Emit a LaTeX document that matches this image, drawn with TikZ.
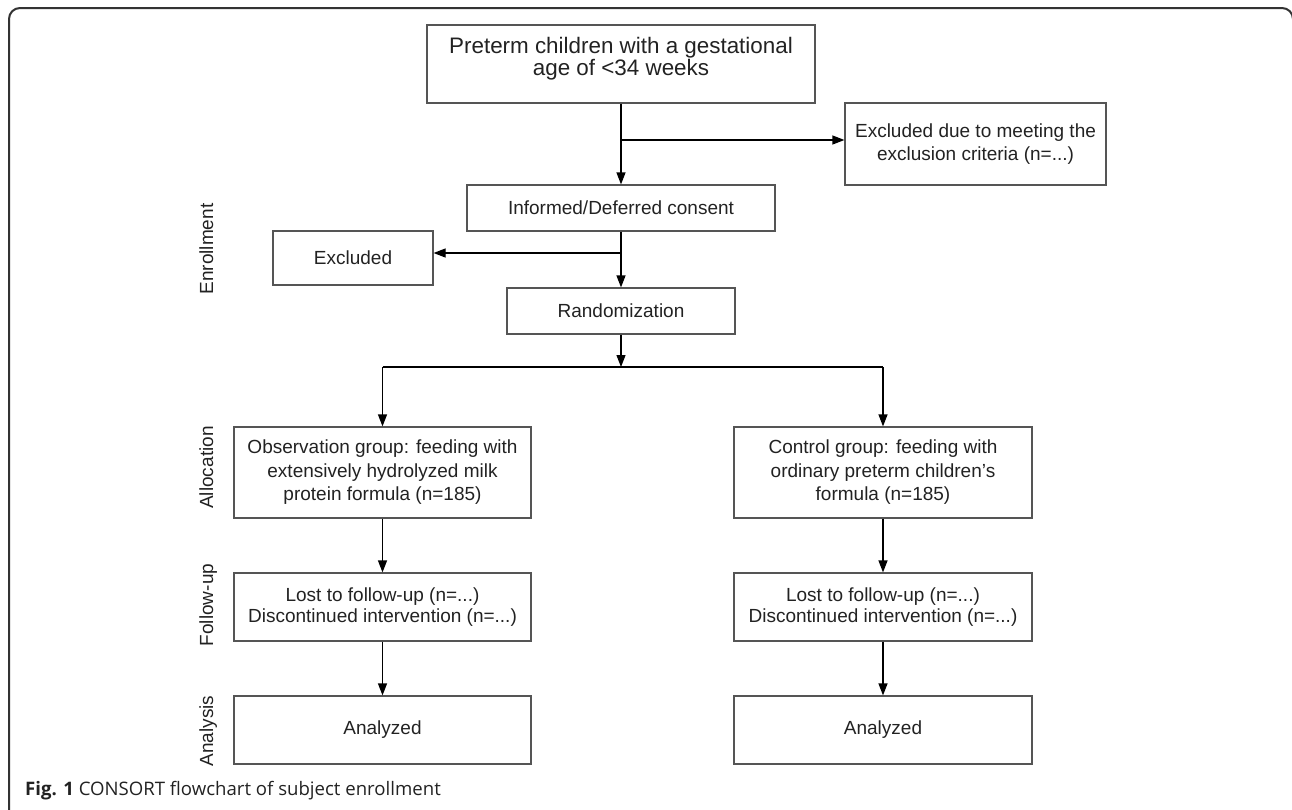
\documentclass[tikz,border=0pt]{standalone}
\usepackage{fontspec}
\setmainfont{Liberation Sans}
\newfontfamily\capfont{Open Sans}
\usetikzlibrary{arrows.meta}
\definecolor{boxline}{HTML}{555555}
\definecolor{txt}{HTML}{222222}
\definecolor{frame}{HTML}{333333}
\begin{document}
\begin{tikzpicture}[x=1pt,y=-1pt,
  box/.style={draw=boxline, line width=1.2pt, text=txt, align=center, inner sep=0pt, font=\fontsize{19}{23.5}\selectfont},
  arr/.style={draw=black, line width=1.2pt, -{Triangle[length=12pt,width=9pt]}},
  ln/.style={draw=black, line width=1.2pt},
  lab/.style={rotate=90, text=txt, inner sep=0pt, anchor=base, font=\fontsize{19}{23}\selectfont}]
\useasboundingbox (0,0) rectangle (1292,809);
\clip (0,0) rectangle (1292,809);
\draw[line width=2pt, draw=frame, rounded corners=11pt] (9,820) -- (9,8) -- (1293,8) -- (1293,820);

% top box
\node[box, minimum width=388pt, minimum height=78pt] (pre) at (621,64) {};
\node[text=txt, align=center, inner sep=0pt, font=\fontsize{22.4}{22}\selectfont] (pretext) at (621,59) {Preterm children with a gestational\\age of <34 weeks};
\node[box, minimum width=261pt, minimum height=82pt] (exr) at (975.5,144) {Excluded due to meeting the\\exclusion criteria (n=...)};
\node[box, minimum width=308pt, minimum height=46pt] (inf) at (621,208) {Informed/Deferred consent};
\node[box, minimum width=160pt, minimum height=54pt] (exl) at (353,258) {Excluded};
\node[box, minimum width=228pt, minimum height=46pt] (rand) at (621,311) {Randomization};

\node[box, minimum width=297pt, minimum height=91pt] (obs) at (382.5,472.5) {Observation group: feeding with\\extensively hydrolyzed milk\\protein formula (n=185)};
\node[box, minimum width=298pt, minimum height=91pt] (ctl) at (883,472.5) {Control group: feeding with\\ordinary preterm children’s\\formula (n=185)};
\node[box, minimum width=297pt, minimum height=68pt, font=\fontsize{19}{21.5}\selectfont] (ful) at (382.5,607) {Lost to follow-up (n=...)\\Discontinued intervention (n=...)};
\node[box, minimum width=298pt, minimum height=68pt, font=\fontsize{19}{21.5}\selectfont] (fur) at (883,607) {Lost to follow-up (n=...)\\Discontinued intervention (n=...)};
\node[box, minimum width=297pt, minimum height=68pt] (anl) at (382.5,730) {Analyzed};
\node[box, minimum width=298pt, minimum height=68pt] (anr) at (883,730) {Analyzed};

% stage labels
\node[lab] (l1) at (213,249) {Enrollment};
\node[lab] (l2) at (213,467.5) {Allocation};
\node[lab] (l3) at (213,605) {Follow-up};
\node[lab] (l4) at (213,731) {Analysis};

% connectors
\coordinate (b1) at (621,140);
\coordinate (b2) at (621,253);
\coordinate (split) at (621,367);
\draw[arr] (pre.south) -- (inf.north);
\draw[arr] (b1) -- (b1 -| exr.west);
\draw[arr] (inf.south) -- (rand.north);
\draw[arr] (b2) -- (b2 -| exl.east);
\draw[arr] (rand.south) -- (split);
\draw[ln] (obs.north |- split) -- (ctl.north |- split);
\draw[arr] (obs.north |- split) -- (obs.north);
\draw[arr] (ctl.north |- split) -- (ctl.north);
\draw[arr] (obs.south) -- (ful.north);
\draw[arr] (ctl.south) -- (fur.north);
\draw[arr] (ful.south) -- (anl.north);
\draw[arr] (fur.south) -- (anr.north);

% caption
\node[anchor=base west, inner sep=0pt, text=txt, font=\capfont\fontsize{18.6}{19}\selectfont] (cap) at (25,795) {\textbf{Fig. 1} CONSORT flowchart of subject enrollment};
\end{tikzpicture}
\end{document}
